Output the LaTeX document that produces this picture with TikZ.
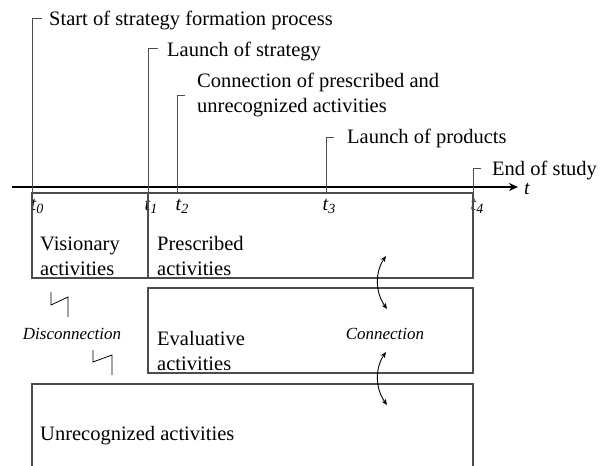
\documentclass[tikz,border=0pt]{standalone}
\usepackage{fontspec}
\setmainfont{Liberation Serif}
\usetikzlibrary{arrows.meta,calc}
\begin{document}
\begin{tikzpicture}[x=1pt,y=-1pt,
  lbl/.style={font=\fontsize{20.5}{25}\selectfont, anchor=base west, inner sep=0},
  ital/.style={font=\fontsize{17}{20}\selectfont\itshape, anchor=base, inner sep=0},
  tlab/.style={font=\fontsize{20}{24}\selectfont\itshape, anchor=base, inner sep=0},
  marker/.style={draw=black!70, line width=1pt},
  boxline/.style={draw=black!70, line width=1.2pt},
  axisline/.style={draw=black, line width=2.4pt, -{Stealth[length=9pt,width=8pt]}},
  bolt/.style={draw=black, line width=0.8pt},
  conn/.style={draw=black, line width=0.9pt, {Stealth[length=6pt,width=5pt]}-{Stealth[length=6pt,width=5pt]}}]
\useasboundingbox (0,0) rectangle (600,466);

% axis
\coordinate (axL) at (12,187);
\coordinate (axR) at (518,187);
\draw[axisline] (axL) -- (axR);
\node[tlab, anchor=base west] (tt) at (524,194) {t};

% markers
\coordinate (m0t) at (32,18);  \coordinate (m0b) at (32,278);
\coordinate (m1t) at (148,48); \coordinate (m1b) at (148,278);
\coordinate (m2t) at (177,95); \coordinate (m2b) at (177,193);
\coordinate (m3t) at (326,137);\coordinate (m3b) at (326,193);
\coordinate (m4t) at (473,168);\coordinate (m4b) at (473,278);
\foreach \i/\len in {0/10,1/10,2/8,3/8,4/8}{
  \draw[marker] ($(m\i t)+(\len,0)$) -- (m\i t) -- (m\i b);
}

\node[lbl] (s0) at (49,25) {Start of strategy formation process};
\node[lbl] (s1) at (167,56) {Launch of strategy};
\node[lbl] (s2) at (197,87) {Connection of prescribed and};
\node[lbl] (s2b) at (197,112) {unrecognized activities};
\node[lbl] (s3) at (347,143) {Launch of products};
\node[lbl] (s4) at (492,175) {End of study};

% tick labels
\node[tlab] (t0) at (37,210) {t\raisebox{-0.35ex}{\fontsize{14}{14}\selectfont 0}};
\node[tlab] (t1) at (151,210) {t\raisebox{-0.35ex}{\fontsize{14}{14}\selectfont 1}};
\node[tlab] (t2) at (182,210) {t\raisebox{-0.35ex}{\fontsize{14}{14}\selectfont 2}};
\node[tlab] (t3) at (329,210) {t\raisebox{-0.35ex}{\fontsize{14}{14}\selectfont 3}};
\node[tlab] (t4) at (477,210) {t\raisebox{-0.35ex}{\fontsize{14}{14}\selectfont 4}};

% upper box
\draw[boxline] (32,193) rectangle (473,278);
\draw[boxline] (148,193) -- (148,278);
\node[lbl] (vis) at (40,250) {Visionary};
\node[lbl] (vis2) at (40,275) {activities};
\node[lbl] (pre) at (157,250) {Prescribed};
\node[lbl] (pre2) at (157,275) {activities};

% evaluative box
\draw[boxline] (148,288) rectangle (473,373);
\node[lbl] (ev) at (157,345) {Evaluative};
\node[lbl] (ev2) at (157,370) {activities};

% unrecognized box (open at bottom)
\draw[boxline] (32,466) -- (32,384) -- (473,384) -- (473,466);
\node[lbl] (un) at (40,440) {Unrecognized activities};

% disconnection
\node[ital] (dis) at (72,339) {Disconnection};
\draw[bolt] (51,292) -- (51,305) -- (68,297) -- (68,317);
\draw[bolt] (93,350) -- (93,362) -- (112,355) -- (112,375);

% connection
\node[ital] (con) at (385,339) {Connection};
\coordinate (a1) at (386,256); \coordinate (a2) at (387,309);
\coordinate (b1) at (386,352); \coordinate (b2) at (387,405);
\draw[conn] (a1) .. controls (375,272) and (375,292) .. (a2);
\draw[conn] (b1) .. controls (375,368) and (375,388) .. (b2);
\end{tikzpicture}
\end{document}
